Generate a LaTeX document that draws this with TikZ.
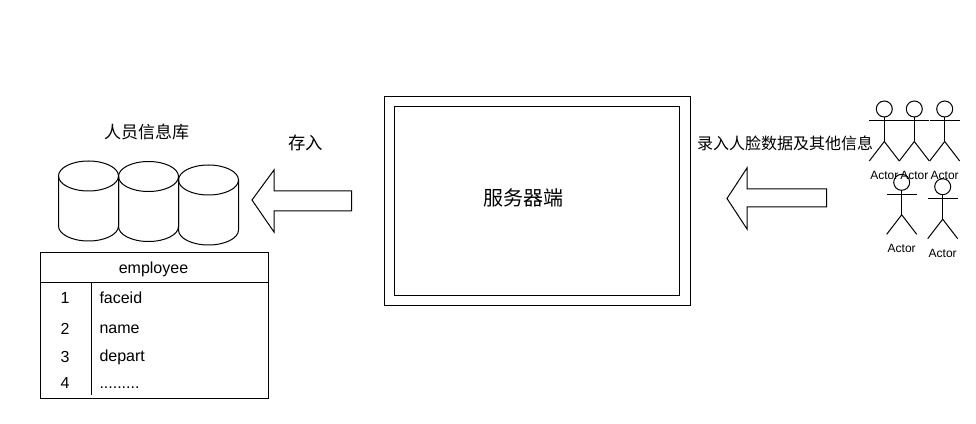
\documentclass[tikz,border=0pt]{standalone}
\usepackage{fontspec}
\setmainfont{Liberation Sans}
\newfontfamily\cjk{Noto Sans CJK SC}
\tikzset{box/.style={rectangle,draw,inner sep=0pt},txt/.style={inner sep=0pt,font=\fontsize{12pt}{14pt}\selectfont},
cn/.style={inner sep=0pt,font=\cjk\fontsize{12pt}{14pt}\selectfont},
block/.style={draw,line join=miter},
dbcyl/.pic={\draw (0,0) ellipse [x radius=22.5pt,y radius=11.25pt];
\draw (-30,0) -- (-30,50) arc [start angle=180,end angle=360,x radius=22.5pt,y radius=11.25pt] -- (30,0);},
actor/.pic={\draw (0,0) circle (6pt);\draw (-15,12) -- (15,12);\draw (0,8) -- (0,32.5);\draw (-15,52) -- (0,32.5) -- (15,52);
\node[inner sep=0pt,font=\fontsize{9pt}{11pt}\selectfont] (-label) at (0,66.5) {Actor};}}

\begin{document}
\begin{tikzpicture}[x=0.75pt,y=-0.75pt,line width=0.75pt]
\useasboundingbox (0,0) rectangle (976,424);
% server
\node[box,minimum width=229.5pt,minimum height=156.4pt] (serverouter) at (537,201.2) {};
\node[box,minimum width=214.1pt,minimum height=141.4pt] (serverinner) at (537,200.75) {};
\node[cn,font=\cjk\fontsize{15pt}{17pt}\selectfont] (serverlabel) at (523.5,198) {服务器端};
% database
\node[cn,font=\cjk\fontsize{12.75pt}{15pt}\selectfont] (dblabel) at (146.5,132) {人员信息库};
\pic (db1) at (88.5,176) {dbcyl};
\pic (db2) at (148.5,176.5) {dbcyl};
\pic (db3) at (208.5,180) {dbcyl};
% table
\node[box,minimum width=171pt,minimum height=22.5pt] (tblhead) at (154.5,268) {};
\node[box,minimum width=171pt] (tblbody) at (154.5,341) [minimum height=87pt] {};
\node[txt] (tbltitle) at (153.5,269) {employee};
\coordinate (coltop) at (91.5,283);
\coordinate (colbot) at (91.5,395);
\draw (coltop) -- (colbot);
\node[txt] (n1) at (65,297.5) {1};
\node[txt] (n2) at (65,328.5) {2};
\node[txt] (n3) at (65,356.5) {3};
\node[txt] (n4) at (65,382.5) {4};
\node[txt,anchor=west] (f1) at (99,298) {faceid};
\node[txt,anchor=west] (f2) at (99,329) {name};
\node[txt,anchor=west] (f3) at (99,357) {depart};
\node[txt,anchor=base west] (f4) at (99,388) {.........};
% arrows
\draw[block] (351.5,191) -- (274,191) -- (274,170) -- (252,200) -- (274,232) -- (274,211) -- (351.5,211) -- cycle;
\draw[block] (826.5,189) -- (747,189) -- (747,168) -- (727,198.5) -- (747,229) -- (747,207) -- (826.5,207) -- cycle;
\node[cn,font=\cjk\fontsize{13pt}{15pt}\selectfont] (savelabel) at (305.5,143) {存入};
\node[cn] (inputlabel) at (785,143) {录入人脸数据及其他信息};
% actors
\pic (a1) at (884.3,109) {actor};
\pic (a2) at (914.3,109) {actor};
\pic (a3) at (944.7,109) {actor};
\pic (a4) at (901.7,182.3) {actor};
\pic (a5) at (942.7,186.7) {actor};
\end{tikzpicture}
\end{document}
